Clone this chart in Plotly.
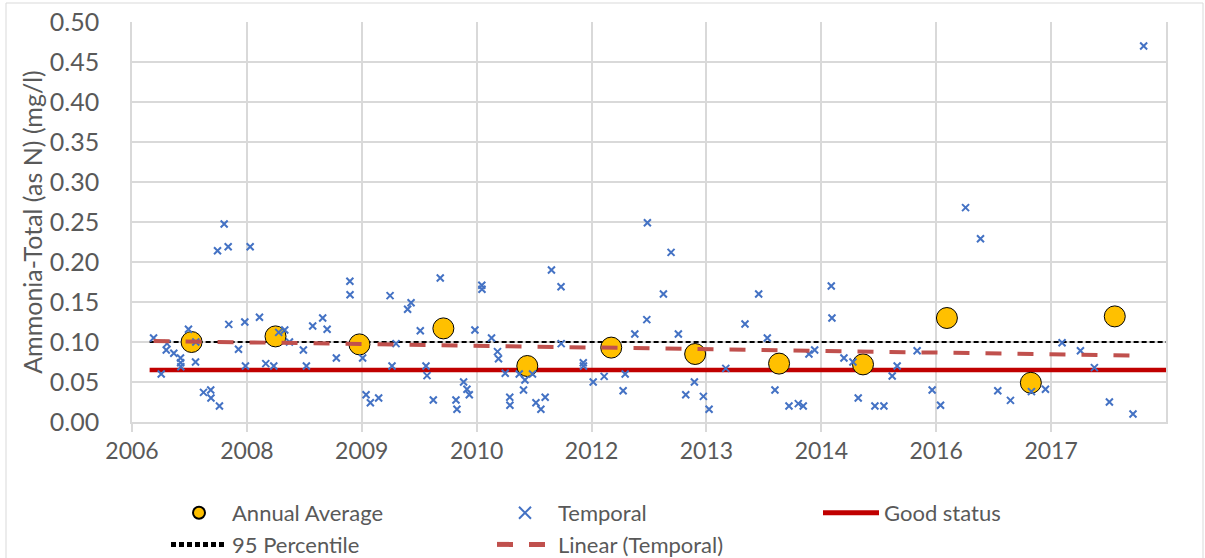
import plotly.graph_objects as go

# ---------------- data ----------------
temporal_year = [
    2007.037, 2007.128, 2007.188, 2007.197, 2007.278, 2007.358, 2007.360, 2007.362,
    2007.453, 2007.537, 2007.540, 2007.632, 2007.718, 2007.721, 2007.799, 2007.822,
    2007.878, 2007.926, 2007.933, 2008.049, 2008.124, 2008.132, 2008.188, 2008.299,
    2008.374, 2008.469, 2008.528, 2008.600, 2008.656, 2008.822, 2008.858, 2008.933,
    2009.052, 2009.105, 2009.215, 2009.376, 2009.378, 2009.528, 2009.569, 2009.620,
    2009.719, 2009.855, 2009.878, 2009.926, 2010.064, 2010.105, 2010.215, 2010.283,
    2010.295, 2010.370, 2010.453, 2010.640, 2010.652, 2010.731, 2010.771, 2010.799,
    2010.866, 2010.948, 2010.950, 2011.064, 2011.135, 2011.147, 2011.227, 2011.281,
    2011.283, 2011.394, 2011.445, 2011.462, 2011.552, 2011.593, 2011.652, 2011.703,
    2011.778, 2011.892, 2011.894, 2012.157, 2012.159, 2012.275, 2012.406, 2012.632,
    2012.656, 2012.771, 2012.914, 2012.921, 2013.112, 2013.203, 2013.290, 2013.378,
    2013.481, 2013.588, 2013.656, 2013.855, 2014.084, 2014.247, 2014.350, 2014.441,
    2014.608, 2014.719, 2014.778, 2014.846, 2014.914, 2015.112, 2015.120, 2015.263,
    2015.370, 2015.433, 2015.632, 2015.739, 2015.838, 2015.897, 2016.135, 2016.314,
    2016.414, 2016.712, 2016.890, 2017.096, 2017.247, 2017.497, 2017.664, 2017.862,
    2018.081, 2018.247, 2018.426, 2018.707, 2018.834,
]
temporal_value = [
    0.105, 0.060, 0.090, 0.098, 0.086, 0.080, 0.074, 0.069,
    0.116, 0.075, 0.100, 0.037, 0.040, 0.030, 0.214, 0.020,
    0.2475, 0.219, 0.122, 0.091, 0.125, 0.070, 0.219, 0.131,
    0.073, 0.070, 0.112, 0.115, 0.100, 0.090, 0.070, 0.120,
    0.130, 0.116, 0.080, 0.176, 0.159, 0.080, 0.034, 0.024,
    0.030, 0.158, 0.070, 0.098, 0.141, 0.149, 0.114, 0.070,
    0.058, 0.0275, 0.180, 0.0275, 0.016, 0.050, 0.041, 0.034,
    0.115, 0.171, 0.166, 0.105, 0.088, 0.079, 0.061, 0.031,
    0.021, 0.060, 0.040, 0.0525, 0.060, 0.024, 0.016, 0.031,
    0.190, 0.169, 0.098, 0.074, 0.070, 0.050, 0.057, 0.039,
    0.060, 0.110, 0.128, 0.249, 0.160, 0.212, 0.110, 0.034,
    0.050, 0.032, 0.016, 0.067, 0.1225, 0.160, 0.105, 0.040,
    0.020, 0.023, 0.020, 0.085, 0.090, 0.170, 0.130, 0.080,
    0.075, 0.030, 0.020, 0.020, 0.0575, 0.070, 0.089, 0.040,
    0.021, 0.268, 0.229, 0.039, 0.027, 0.038, 0.041, 0.099,
    0.089, 0.068, 0.025, 0.010, 0.470,
]

annual_year = [2007.49, 2008.49, 2009.49, 2010.49, 2011.49, 2012.49,
               2013.49, 2014.49, 2015.49, 2016.49, 2017.49, 2018.49]
annual_value = [0.100, 0.107, 0.097, 0.117, 0.070, 0.093,
                0.085, 0.073, 0.072, 0.130, 0.049, 0.132]

good_status_value = 0.065
percentile_95_value = 0.10
reference_line_year = [2006.99, 2019.3]

trend_year = [2007.037, 2018.834]
trend_value = [0.1013, 0.0829]

tick_labels = ["2006", "2008", "2009", "2010", "2012", "2013", "2014", "2016", "2017"]

# ---------------- axis layout (Excel date axis, 500-day major unit) ----------------
axis_start = 2006.78
major_unit = 500 / 365.25
tick_vals = [axis_start + k * major_unit for k in range(len(tick_labels))]
axis_end = axis_start + 9 * major_unit

FONT = "Lato"
GREY_TXT = "#595959"
GRID = "#d9d9d9"

W, H = 1205, 558
ML, MR, MT, MB = 132, 39, 22, 136
PW, PH = W - ML - MR, H - MT - MB

fig = go.Figure()

fig.add_trace(go.Scatter(
    x=reference_line_year, y=[good_status_value] * 2, mode="lines",
    name="Good status", line=dict(color="#C00000", width=4.5),
    legendrank=3, hoverinfo="skip"))

fig.add_trace(go.Scatter(
    x=reference_line_year, y=[percentile_95_value] * 2, mode="lines",
    name="95 Percentile", line=dict(color="#000000", width=2, dash="5px,3px"),
    legendrank=4, hoverinfo="skip"))

fig.add_trace(go.Scatter(
    x=annual_year, y=annual_value, mode="markers", name="Annual Average",
    marker=dict(symbol="circle", size=21, color="#FFC000",
                line=dict(color="#000000", width=1)),
    legendrank=1))

fig.add_trace(go.Scatter(
    x=temporal_year, y=temporal_value, mode="markers", name="Temporal",
    marker=dict(symbol="x-thin", size=7, color="#4472C4",
                line=dict(color="#4472C4", width=2)),
    legendrank=2))

fig.add_trace(go.Scatter(
    x=trend_year, y=trend_value, mode="lines", name="Linear (Temporal)",
    line=dict(color="#C0504D", width=4, dash="16px,16px"),
    legendrank=5, hoverinfo="skip"))

fig.update_layout(
    width=W, height=H,
    margin=dict(l=ML, r=MR, t=MT, b=MB),
    paper_bgcolor="white", plot_bgcolor="white",
    font=dict(family=FONT, color=GREY_TXT, size=22),
    showlegend=True,
    legend=dict(
        orientation="h", xref="container", yref="container",
        x=166 / W, xanchor="left", y=1 - 492 / H, yanchor="top",
        entrywidth=255, entrywidthmode="pixels", itemwidth=56,
        itemsizing="constant", traceorder="normal",
        font=dict(family=FONT, size=22, color=GREY_TXT),
        bgcolor="rgba(0,0,0,0)",
    ),
    xaxis=dict(
        range=[axis_start, axis_end], tickmode="array",
        tickvals=tick_vals, ticktext=tick_labels, automargin=False,
        ticklabeloverflow="allow",
        showgrid=True, gridcolor=GRID, gridwidth=1.5,
        showline=True, linecolor=GRID, linewidth=1.5,
        ticks="outside", ticklen=8, tickcolor=GRID, tickwidth=1.5,
        tickfont=dict(family=FONT, size=23, color=GREY_TXT),
        zeroline=False,
    ),
    yaxis=dict(
        range=[0, 0.5], dtick=0.05, tick0=0, tickformat=".2f",
        automargin=False, ticklabeloverflow="allow",
        showgrid=True, gridcolor=GRID, gridwidth=1.5,
        showline=True, linecolor=GRID, linewidth=1.5, mirror=True,
        ticks="", ticklabelstandoff=26,
        tickfont=dict(family=FONT, size=25, color=GREY_TXT),
        title=dict(text="Ammonia-Total (as N) (mg/l)", standoff=0,
                   font=dict(family=FONT, size=25, color=GREY_TXT)),
        zeroline=False,
    ),
    shapes=[dict(type="rect", xref="paper", yref="paper",
                 x0=(6 - ML) / PW, x1=(1203 - ML) / PW,
                 y0=(PH + MT - 700) / PH, y1=(PH + MT - 3) / PH,
                 line=dict(color=GRID, width=1), fillcolor="rgba(0,0,0,0)",
                 layer="below")],
)

fig.write_html("out.html", config={"displayModeBar": False},
               post_script="document.body.style.margin='0px';")
